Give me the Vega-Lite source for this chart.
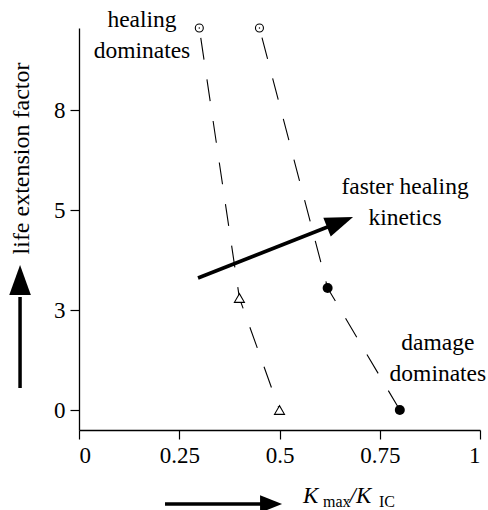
{
  "$schema": "https://vega.github.io/schema/vega-lite/v6.json",
  "autosize": {"type": "none"},
  "padding": {"left": 79, "top": 28, "right": 8, "bottom": 80},
  "width": 401,
  "height": 402,
  "config": {
    "view": {"stroke": null},
    "font": "Liberation Serif",
    "axis": {"grid": false, "domainColor": "black", "tickColor": "black", "labelColor": "black", "titleColor": "black", "labelFont": "Liberation Serif", "titleFont": "Liberation Serif", "labelFontSize": 23, "titleFontSize": 24, "titleFontWeight": "normal", "domainWidth": 1.3, "tickWidth": 1.2, "tickSize": 9}
  },
  "datasets": {
    "points": [
      {"k": 0.3, "life": 10.5, "series": "A", "marker": "open"},
      {"k": 0.4, "life": 3.24, "series": "A", "marker": "triangle"},
      {"k": 0.5, "life": 0, "series": "A", "marker": "triangle"},
      {"k": 0.45, "life": 10.5, "series": "B", "marker": "open"},
      {"k": 0.62, "life": 3.44, "series": "B", "marker": "filled"},
      {"k": 0.8, "life": 0, "series": "B", "marker": "filled"}
    ],
    "arrows": [
      {"arrow": "kinetics", "part": "stem", "k": 0.2968, "life": 3.64},
      {"arrow": "kinetics", "part": "stem", "k": 0.626, "life": 4.68},
      {"arrow": "kinetics", "part": "head", "k": 0.651, "life": 4.758},
      {"arrow": "yaxis", "part": "stem", "k": -0.147, "life": 0.66},
      {"arrow": "yaxis", "part": "stem", "k": -0.147, "life": 3.26},
      {"arrow": "yaxis", "part": "head", "k": -0.147, "life": 3.6},
      {"arrow": "xaxis", "part": "stem", "k": 0.2145, "life": -2.82},
      {"arrow": "xaxis", "part": "stem", "k": 0.456, "life": -2.82},
      {"arrow": "xaxis", "part": "head", "k": 0.479, "life": -2.82}
    ],
    "notes": [
      {"note": "healing\ndominates", "k": 0.157, "life": 10.53},
      {"note": "faster healing\nkinetics", "k": 0.813, "life": 5.48},
      {"note": "damage\ndominates", "k": 0.895, "life": 1.8}
    ],
    "xtitle": [
      {"piece": "K", "role": "main", "k": 0.5586, "life": -2.79},
      {"piece": "max", "role": "sub", "k": 0.6085, "life": -2.91},
      {"piece": "/", "role": "main", "k": 0.6745, "life": -2.79},
      {"piece": "K", "role": "main", "k": 0.6905, "life": -2.79},
      {"piece": "IC", "role": "sub", "k": 0.748, "life": -2.91}
    ]
  },
  "encoding": {
    "x": {"field": "k", "type": "quantitative", "scale": {"domain": [0, 1], "nice": false, "zero": false},
      "axis": {"values": [0, 0.25, 0.5, 0.75, 1], "format": ".2~f", "title": null, "labelPadding": 5}},
    "y": {"field": "life", "type": "quantitative",
      "scale": {"domain": [-0.6, 0, 3, 5, 8, 10.5], "range": [402, 382, 282, 182, 82, 0], "nice": false, "zero": false},
      "axis": {"values": [0, 3, 5, 8], "format": "d", "title": "life extension factor", "labelPadding": 5,
        "titleAngle": -90, "titleX": -58, "titleY": 130, "titleAlign": "center", "titleBaseline": "middle"}}
  },
  "layer": [
    {"data": {"name": "points"}, "mark": {"type": "line", "color": "black", "strokeWidth": 1.1, "strokeDash": [22, 20], "strokeDashOffset": 32}, "encoding": {"detail": {"field": "series"}}},
    {"data": {"name": "points"}, "transform": [{"filter": "datum.marker == 'open'"}], "mark": {"type": "point", "shape": "circle", "filled": false, "stroke": "black", "strokeWidth": 1.1, "size": 64, "opacity": 1}},
    {"data": {"name": "points"}, "transform": [{"filter": "datum.marker == 'open'"}], "mark": {"type": "point", "shape": "circle", "filled": true, "fill": "black", "size": 2, "opacity": 1}},
    {"data": {"name": "points"}, "transform": [{"filter": "datum.marker == 'triangle'"}], "mark": {"type": "point", "shape": "triangle-up", "filled": false, "fill": "white", "fillOpacity": 1, "stroke": "black", "strokeWidth": 1.1, "size": 100, "opacity": 1}},
    {"data": {"name": "points"}, "transform": [{"filter": "datum.marker == 'filled'"}], "mark": {"type": "point", "shape": "circle", "filled": true, "fill": "black", "size": 100, "opacity": 1}},
    {"data": {"name": "arrows"}, "transform": [{"filter": "datum.part == 'stem'"}], "mark": {"type": "line", "color": "black", "strokeWidth": 3.5, "strokeCap": "butt"}, "encoding": {"detail": {"field": "arrow"}}},
    {"data": {"name": "arrows"}, "transform": [{"filter": "datum.part == 'head' && datum.arrow == 'kinetics'"}], "mark": {"type": "point", "shape": "M 1 0 L -1 -0.72 L -1 0.72 Z", "filled": true, "fill": "black", "size": 784, "angle": -21.5, "opacity": 1}},
    {"data": {"name": "arrows"}, "transform": [{"filter": "datum.part == 'head' && datum.arrow == 'yaxis'"}], "mark": {"type": "point", "shape": "M 1 0 L -1 -0.72 L -1 0.72 Z", "filled": true, "fill": "black", "size": 900, "angle": -90, "opacity": 1}},
    {"data": {"name": "arrows"}, "transform": [{"filter": "datum.part == 'head' && datum.arrow == 'xaxis'"}], "mark": {"type": "point", "shape": "M 1 0 L -1 -0.8 L -1 0.8 Z", "filled": true, "fill": "black", "size": 484, "angle": 0, "opacity": 1}},
    {"data": {"name": "notes"}, "mark": {"type": "text", "font": "Liberation Serif", "fontSize": 23.5, "align": "center", "baseline": "alphabetic", "lineBreak": "\n", "lineHeight": 31, "color": "black"}, "encoding": {"text": {"field": "note"}}},
    {"data": {"name": "xtitle"}, "transform": [{"filter": "datum.role == 'main'"}], "mark": {"type": "text", "font": "Liberation Serif", "fontSize": 23, "fontStyle": "italic", "align": "left", "baseline": "alphabetic", "color": "black"}, "encoding": {"text": {"field": "piece"}}},
    {"data": {"name": "xtitle"}, "transform": [{"filter": "datum.role == 'sub'"}], "mark": {"type": "text", "font": "Liberation Serif", "fontSize": 16, "align": "left", "baseline": "alphabetic", "color": "black"}, "encoding": {"text": {"field": "piece"}}}
  ]
}
